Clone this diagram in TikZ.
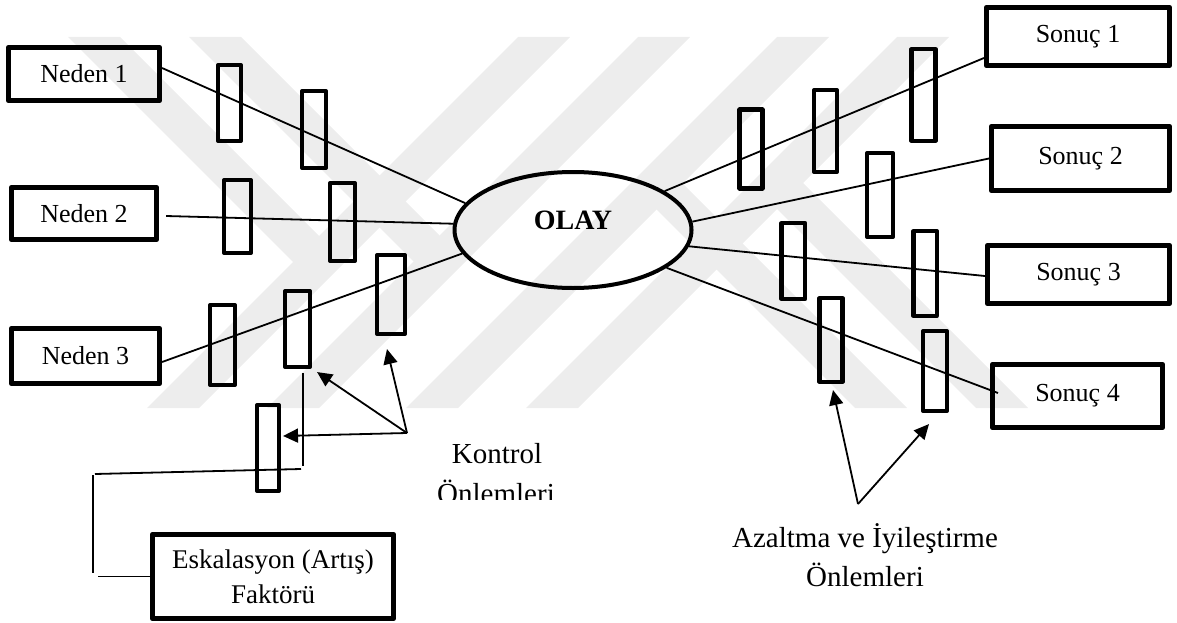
\documentclass[tikz,border=0pt]{standalone}
\usepackage{fontspec}
\setmainfont{Liberation Serif}
\usetikzlibrary{arrows.meta,shapes.geometric}
\definecolor{wm}{RGB}{237,237,237}
\tikzset{
  box/.style={draw,line width=4.6pt,line join=round,inner sep=0pt,font=\fontsize{26}{30}\selectfont},
  bar/.style 2 args={draw,line width=4.3pt,line join=round,inner sep=0pt,minimum width=#1,minimum height=#2},
  link/.style={line width=1.8pt},
  arr/.style={line width=1.8pt,-{Triangle[length=15pt,width=14pt]}},
  lbl/.style={font=\fontsize{29}{40}\selectfont,inner sep=0pt,anchor=base},
  stripe/.style={fill=wm,draw=none}
}
\begin{document}
\begin{tikzpicture}[x=1pt,y=-1pt]
\useasboundingbox (0,0) rectangle (1177,623);

% faint background watermark
\begin{scope}
\clip (0,37) rectangle (1177,408);
\foreach \c in {544,664,803,923}{
  \fill[stripe] (\c-26,37) -- (\c+26,37) -- (\c+26-371,408) -- (\c-26-371,408) -- cycle;
}
\fill[stripe] (68,37) -- (120,37) -- (319,236) -- (319,288) -- cycle;
\fill[stripe] (189,37) -- (241,37) -- (439.5,235.5) -- (439.5,287.5) -- cycle;
\fill[stripe] (1028,408) -- (976,408) -- (777,209) -- (777,157) -- cycle;
\fill[stripe] (907,408) -- (855,408) -- (656.5,209.5) -- (656.5,157.5) -- cycle;
\end{scope}

% causes
\node[box,minimum width=151.5pt,minimum height=53.5pt] (n1) at (84,74) {Neden 1};
\node[box,minimum width=145.5pt,minimum height=52.5pt] (n2) at (84,213.5) {Neden 2};
\node[box,minimum width=148.5pt,minimum height=55.5pt] (n3) at (85.5,356) {Neden 3};

% consequences
\node[box,minimum width=183.5pt,minimum height=58.5pt] (s1) at (1078,36.5) {Sonuç 1};
\node[box,minimum width=178.5pt,minimum height=64.5pt] (s2) at (1080.5,158.5) {Sonuç 2};
\node[box,minimum width=182.5pt,minimum height=58.5pt] (s3) at (1078.5,274.5) {Sonuç 3};
\node[box,minimum width=170.5pt,minimum height=63.5pt] (s4) at (1077.5,396) {Sonuç 4};

% escalation factor
\node[box,minimum width=241.5pt,minimum height=84.5pt,align=center,font=\fontsize{27}{35}\selectfont] (esk) at (273,576.5) {Eskalasyon (Artış)\\Faktörü};

% event
\node[draw,ellipse,line width=4pt,minimum width=237pt,minimum height=116pt,inner sep=0pt,
      font=\fontsize{28}{32}\selectfont\bfseries,text depth=19pt] (olay) at (573,230) {OLAY};

% control barriers
\node[bar={22.8pt}{75.8pt}] (b11) at (229.5,103) {};
\node[bar={23.8pt}{76.8pt}] (b12) at (314,129.5) {};
\node[bar={26.8pt}{72.8pt}] (b21) at (237.5,216.5) {};
\node[bar={24.8pt}{77.8pt}] (b22) at (342.5,222) {};
\node[bar={24.8pt}{79.8pt}] (b31) at (222.5,345) {};
\node[bar={24.8pt}{75.8pt}] (b32) at (297.5,329) {};
\node[bar={27.8pt}{78.8pt}] (b33) at (391,294.5) {};
\node[bar={21.8pt}{85.8pt}] (be) at (268,448) {};

% mitigation barriers
\node[bar={22.8pt}{78.8pt}] (r1a) at (751,149) {};
\node[bar={22.8pt}{81.8pt}] (r1b) at (825.5,131) {};
\node[bar={23.8pt}{91.8pt}] (r1c) at (923.5,95) {};
\node[bar={25.8pt}{83.8pt}] (r2) at (880,195) {};
\node[bar={23.8pt}{75.8pt}] (r3a) at (793.3,261) {};
\node[bar={23.3pt}{84.8pt}] (r3b) at (925,273.5) {};
\node[bar={22.8pt}{83.8pt}] (r4a) at (831,340) {};
\node[bar={23.8pt}{79.8pt}] (r4b) at (935,371) {};

% connectors cause -> event
\draw[link] ([yshift=6pt]n1.east) -- (olay.166);
\draw[link] ([xshift=7pt,yshift=-2.5pt]n2.east) -- (olay.177);
\draw[link] ([yshift=-6pt]n3.east) -- (olay.192);

% connectors event -> consequence
\draw[link] (olay.23) -- ([yshift=-21.5pt]s1.west);
\draw[link] (olay.4) -- (s2.west);
\draw[link] (olay.352) -- ([yshift=-1.5pt]s3.west);
\draw[link] (olay.338) -- ([xshift=8pt,yshift=3pt]s4.west);

% escalation path
\coordinate (v1) at (303,373);
\coordinate (v2) at (303,466);
\coordinate (h1) at (301,469);
\coordinate (h2) at (95,474);
\coordinate (v3) at (93,475);
\coordinate (v4) at (93,573);
\coordinate (h3) at (98,576.5);
\draw[link] (v1) -- (v2);
\draw[link] (h1) -- (h2);
\draw[link] (v3) -- (v4);
\draw[link] (h3) -- (esk.west);

% control labels and arrows
\node[lbl] (kon1) at (497,463) {Kontrol};
\begin{scope}
\clip (400,470) rectangle (600,499);
\node[lbl] (kon2) at (496,503) {Önlemleri};
\end{scope}
\coordinate (k) at (407,433);
\draw[arr] (k) -- ([xshift=-4pt,yshift=-13pt]b33.south);
\draw[arr] (k) -- ([xshift=5pt,yshift=-3pt]b32.south east);
\draw[arr] (k) -- ([xshift=2pt,yshift=12pt]be.east);

% mitigation labels and arrows
\node[lbl] (az1) at (865,547) {Azaltma ve İyileştirme};
\node[lbl] (az2) at (865,586) {Önlemleri};
\coordinate (m) at (858,504);
\draw[arr] (m) -- ([xshift=2pt,yshift=-6pt]r4a.south);
\draw[arr] (m) -- ([xshift=-6pt,yshift=-11pt]r4b.south);
\end{tikzpicture}
\end{document}
